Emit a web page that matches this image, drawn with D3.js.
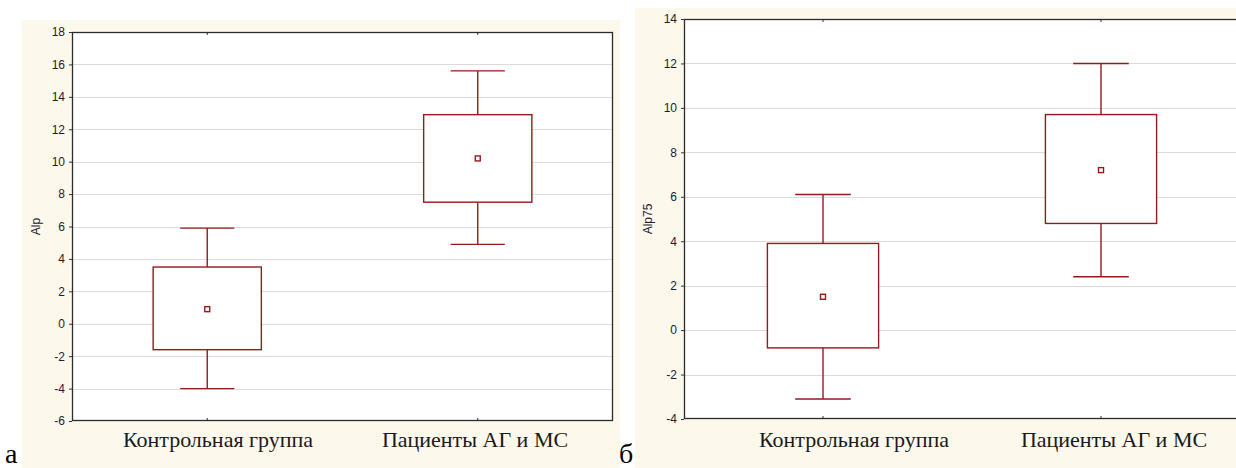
<!DOCTYPE html>
<html>
<head>
<meta charset="utf-8">
<script src="https://cdn.jsdelivr.net/npm/d3@7/dist/d3.min.js"></script>
<style>
  html, body { margin: 0; padding: 0; background: #ffffff; }
  svg { display: block; }
</style>
</head>
<body>
<svg id="chart" width="1236" height="468"></svg>
<script>
// Group names shared by both panels
const categories = ["Контрольная группа", "Пациенты АГ и МС"];

// Panel "а": Alp
const alpWhiskerLow  = [-4.0, 4.9];
const alpBoxLow      = [-1.6, 7.5];
const alpMean        = [0.9, 10.2];
const alpBoxHigh     = [3.5, 12.9];
const alpWhiskerHigh = [5.9, 15.6];
const alpTicks       = [-6, -4, -2, 0, 2, 4, 6, 8, 10, 12, 14, 16, 18];

// Panel "б": Alp75
const alp75WhiskerLow  = [-3.1, 2.4];
const alp75BoxLow      = [-0.8, 4.8];
const alp75Mean        = [1.5, 7.2];
const alp75BoxHigh     = [3.9, 9.7];
const alp75WhiskerHigh = [6.1, 12.0];
const alp75Ticks       = [-4, -2, 0, 2, 4, 6, 8, 10, 12, 14];

const svg = d3.select("#chart");
const BOX = "#951b1b";
const CREAM = "#fdf8ec";
const SERIF = '"Liberation Serif", "Times New Roman", serif';
const SANS = '"Liberation Sans", Arial, sans-serif';

function drawPanel(opt) {
  const g = svg.append("g");

  // cream backdrop of the panel
  g.append("rect")
    .attr("x", opt.bg[0]).attr("y", opt.bg[1])
    .attr("width", opt.bg[2]).attr("height", opt.bg[3])
    .attr("fill", CREAM);

  const [x0, y0, x1, y1] = opt.plot;
  const ticks = opt.ticks;

  const y = d3.scaleLinear()
    .domain([ticks[0], ticks[ticks.length - 1]])
    .range([y1, y0]);
  const x = d3.scalePoint()
    .domain(categories)
    .range([x0, x1])
    .padding(0.5);
  const step = x.step();

  // plot area
  g.append("rect")
    .attr("x", x0).attr("y", y0)
    .attr("width", x1 - x0).attr("height", y1 - y0)
    .attr("fill", "#ffffff");

  // horizontal grid
  g.append("g").selectAll("line")
    .data(ticks.slice(1, -1))
    .join("line")
    .attr("x1", x0).attr("x2", x1)
    .attr("y1", d => Math.round(y(d)) + 0.5)
    .attr("y2", d => Math.round(y(d)) + 0.5)
    .attr("stroke", "#dcdcdc")
    .attr("stroke-width", 1);

  // y axis with tick labels (plain hyphen for negatives)
  const yAxis = d3.axisLeft(y)
    .tickValues(ticks)
    .tickSize(3)
    .tickPadding(4)
    .tickFormat(d => String(d));
  const ya = g.append("g")
    .attr("transform", `translate(${x0},0)`)
    .call(yAxis);
  ya.select(".domain").remove();
  ya.selectAll(".tick line").attr("stroke", "#333");
  ya.selectAll(".tick text")
    .style("font-family", SANS)
    .style("font-size", "12px")
    .attr("fill", "#1c1c30");

  // small category ticks inside the frame, top and bottom
  const cg = g.append("g");
  categories.forEach(c => {
    cg.append("line")
      .attr("x1", x(c)).attr("x2", x(c))
      .attr("y1", y1).attr("y2", y1 - 3)
      .attr("stroke", "#333");
    cg.append("line")
      .attr("x1", x(c)).attr("x2", x(c))
      .attr("y1", y0).attr("y2", y0 + 3)
      .attr("stroke", "#333");
  });

  // frame
  g.append("rect")
    .attr("x", x0 + 0.5).attr("y", y0 + 0.5)
    .attr("width", x1 - x0 - 1).attr("height", y1 - y0 - 1)
    .attr("fill", "none")
    .attr("stroke", "#2b2b2b")
    .attr("stroke-width", 1.3);

  // axis title
  g.append("text")
    .attr("transform", `translate(${opt.titleX},${(y0 + y1) / 2}) rotate(-90)`)
    .attr("text-anchor", "middle")
    .attr("dominant-baseline", "middle")
    .style("font-family", SANS)
    .style("font-size", "12px")
    .attr("fill", "#1c1c30")
    .text(opt.title);

  // boxes and whiskers
  const boxW = step * 0.4;
  const capW = step * 0.2;
  const marks = g.append("g")
    .attr("stroke", BOX)
    .attr("stroke-width", 1.4)
    .attr("fill", "none");

  categories.forEach((c, i) => {
    const cx = x(c);
    // whisker stems
    marks.append("line")
      .attr("x1", cx).attr("x2", cx)
      .attr("y1", y(opt.whiskHigh[i])).attr("y2", y(opt.boxHigh[i]));
    marks.append("line")
      .attr("x1", cx).attr("x2", cx)
      .attr("y1", y(opt.boxLow[i])).attr("y2", y(opt.whiskLow[i]));
    // whisker caps
    [opt.whiskHigh[i], opt.whiskLow[i]].forEach(v => {
      marks.append("line")
        .attr("x1", cx - capW / 2).attr("x2", cx + capW / 2)
        .attr("y1", y(v)).attr("y2", y(v));
    });
    // box
    marks.append("rect")
      .attr("x", cx - boxW / 2)
      .attr("y", y(opt.boxHigh[i]))
      .attr("width", boxW)
      .attr("height", y(opt.boxLow[i]) - y(opt.boxHigh[i]))
      .attr("fill", "#ffffff");
    // mean marker
    marks.append("rect")
      .attr("x", cx - 2.5).attr("y", y(opt.mean[i]) - 2.5)
      .attr("width", 5).attr("height", 5)
      .attr("fill", "#ffffff");
  });

  // category captions
  opt.captions.forEach((cx, i) => {
    g.append("text")
      .attr("x", cx).attr("y", opt.captionY)
      .attr("text-anchor", "middle")
      .style("font-family", SERIF)
      .style("font-size", "22px")
      .attr("fill", "#1a1a1a")
      .text(categories[i]);
  });

  // panel letter
  svg.append("text")
    .attr("x", opt.letter[0]).attr("y", opt.letter[1])
    .style("font-family", SERIF)
    .style("font-size", "28px")
    .attr("fill", "#000")
    .text(opt.letterText);
}

drawPanel({
  bg: [22, 20, 598, 448],
  plot: [72, 32, 613, 421],
  ticks: alpTicks,
  title: "Alp",
  titleX: 37,
  whiskLow: alpWhiskerLow,
  boxLow: alpBoxLow,
  mean: alpMean,
  boxHigh: alpBoxHigh,
  whiskHigh: alpWhiskerHigh,
  captions: [218, 475],
  captionY: 447,
  letter: [5, 463],
  letterText: "а"
});

drawPanel({
  bg: [635, 8, 601, 460],
  plot: [684, 19, 1240, 419],
  ticks: alp75Ticks,
  title: "Alp75",
  titleX: 649,
  whiskLow: alp75WhiskerLow,
  boxLow: alp75BoxLow,
  mean: alp75Mean,
  boxHigh: alp75BoxHigh,
  whiskHigh: alp75WhiskerHigh,
  captions: [854, 1114],
  captionY: 447,
  letter: [619, 463],
  letterText: "б"
});
</script>
</body>
</html>
